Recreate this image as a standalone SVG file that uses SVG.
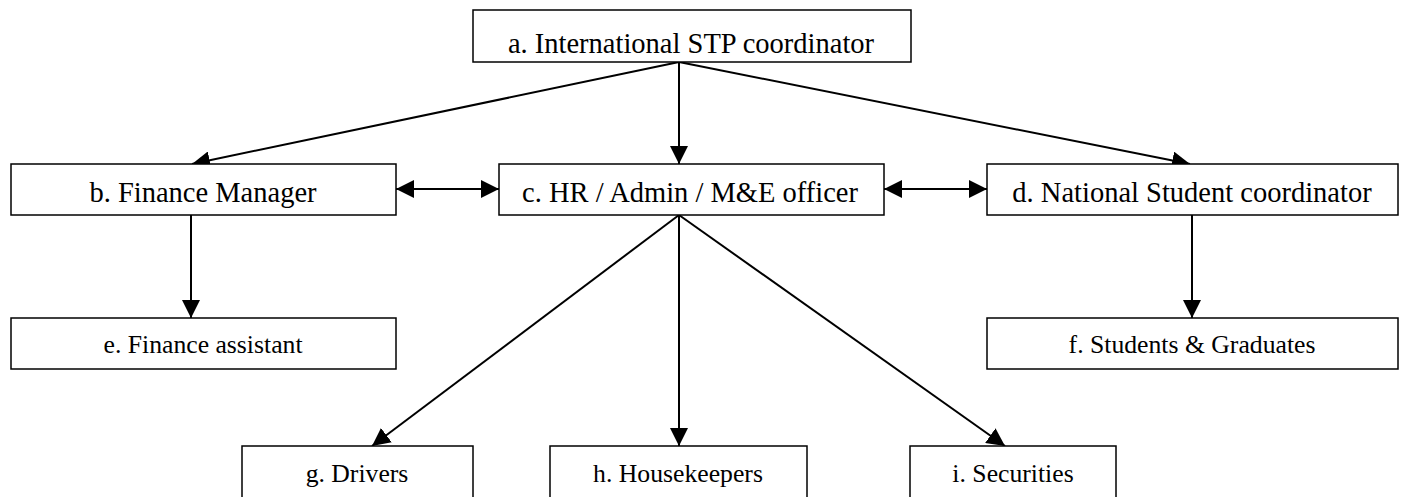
<svg xmlns="http://www.w3.org/2000/svg" width="1405" height="497" viewBox="0 0 1405 497">
<style>
.box{fill:#fff;stroke:#000;stroke-width:1.5}
.t{font-family:"Liberation Serif","Times New Roman",serif;fill:#000;text-anchor:middle}
.t1{font-size:28.5px}
.t3{font-size:25.7px}
.c{stroke:#000;stroke-width:2;fill:none;marker-end:url(#ah)}
.bi{marker-start:url(#ah)}
</style>
<defs>
<marker id="ah" markerUnits="userSpaceOnUse" markerWidth="18" markerHeight="18" refX="16" refY="8" orient="auto-start-reverse" viewBox="0 0 16 16">
<path d="M0,0 L16,8 L0,16 z" fill="#000"/>
</marker>
</defs>
<rect width="1405" height="497" fill="#fff"/>
<g id="connectors">
<line class="c" x1="679" y1="62" x2="192" y2="164"/>
<line class="c" x1="679" y1="62" x2="679" y2="164"/>
<line class="c" x1="679" y1="62" x2="1190" y2="164"/>
<line class="c bi" x1="396" y1="189" x2="499" y2="189"/>
<line class="c bi" x1="884" y1="189" x2="987" y2="189"/>
<line class="c" x1="191" y1="215" x2="191" y2="318"/>
<line class="c" x1="1192" y1="215" x2="1192" y2="318"/>
<line class="c" x1="679" y1="215" x2="372" y2="446"/>
<line class="c" x1="679" y1="215" x2="679" y2="446"/>
<line class="c" x1="679" y1="215" x2="1005" y2="446"/>
</g>
<g id="a"><rect class="box" x="473" y="10" width="438" height="52"/><text class="t t1" x="691" y="53">a. International STP coordinator</text></g>
<g id="b"><rect class="box" x="11" y="164" width="385" height="51"/><text class="t t1" x="203" y="202">b. Finance Manager</text></g>
<g id="c"><rect class="box" x="499" y="164" width="385" height="51"/><text class="t t1" x="690" y="202">c. HR / Admin / M&amp;E officer</text></g>
<g id="d"><rect class="box" x="987" y="164" width="411" height="51"/><text class="t t1" x="1192" y="202">d. National Student coordinator</text></g>
<g id="e"><rect class="box" x="11" y="318" width="385" height="51"/><text class="t t3" x="203" y="353">e. Finance assistant</text></g>
<g id="f"><rect class="box" x="987" y="318" width="411" height="51"/><text class="t t3" x="1192" y="353">f. Students &amp; Graduates</text></g>
<g id="g"><rect class="box" x="242" y="446" width="231" height="52"/><text class="t t3" x="357" y="482">g. Drivers</text></g>
<g id="h"><rect class="box" x="550" y="446" width="257" height="52"/><text class="t t3" x="678" y="482">h. Housekeepers</text></g>
<g id="i"><rect class="box" x="910" y="446" width="206" height="52"/><text class="t t3" x="1013" y="482">i. Securities</text></g>
</svg>
